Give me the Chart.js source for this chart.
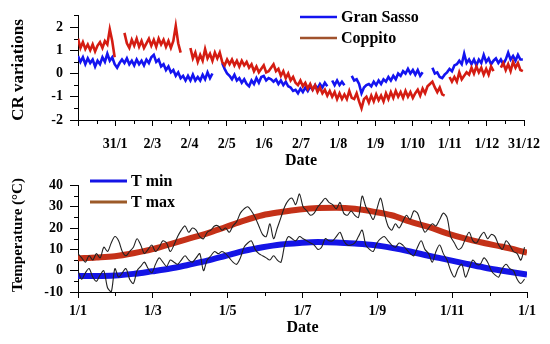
<!DOCTYPE html>
<html>
<head>
<meta charset="utf-8">
<script src="https://cdn.jsdelivr.net/npm/chart.js@4.4.1/dist/chart.umd.min.js"></script>
<style>
  body { margin: 0; background: #fff; }
  canvas { display: block; }
</style>
</head>
<body>
<canvas id="crChart" width="550" height="170"></canvas>
<canvas id="tempChart" width="550" height="174"></canvas>
<script>
// Cosmic ray variations, one sample every 2 days (day 0 = 1 Jan)
const crStep = 2;
const granSasso = [
  0.75, 0.5, 0.7, 0.4, 0.65, 0.45, 0.6, 0.3, 0.55, 0.4,
  0.7, 0.5, 0.85, 0.55, 0.7, 0.4, 0.25, 0.45, 0.6, 0.45,
  0.65, 0.4, 0.55, 0.35, 0.6, 0.4, 0.55, 0.35, 0.6, 0.45,
  0.7, 0.8, 0.5, 0.6, 0.3, 0.4, 0.15, 0.3, 0.05, 0.15,
  -0.1, 0.05, -0.2, -0.1, -0.3, -0.1, -0.3, -0.05, -0.3, -0.15,
  -0.3, -0.05, -0.25, 0.05, -0.2, 0.0, null, null, null, 0.45,
  0.2, 0.0, -0.1, -0.25, -0.05, -0.3, -0.2, -0.4, -0.25, -0.45,
  -0.55, -0.3, -0.45, -0.2, -0.4, -0.15, -0.1, -0.3, -0.2, -0.25,
  -0.35, -0.25, -0.45, -0.3, -0.5, -0.35, -0.55, -0.6, -0.75, -0.7,
  -0.85, -0.65, -0.8, -0.6, -0.75, -0.55, -0.7, -0.5, -0.65, -0.45,
  -0.6, -0.4, -0.55, null, -0.3, -0.5, -0.3, -0.5, -0.35, -0.5,
  null, null, -0.1, -0.3, -0.25, -0.45, -0.85, -0.6, -0.5, -0.45,
  -0.55, -0.35, -0.5, -0.3, -0.45, -0.25, -0.35, -0.15, -0.3, -0.1,
  -0.25, 0.0, -0.1, 0.1, 0.0, 0.2, 0.0, 0.15, -0.05, 0.15,
  -0.1, 0.05, null, null, null, 0.25, 0.0, 0.05, -0.15, -0.2,
  -0.05, 0.05, 0.2, 0.1, 0.35, 0.4, 0.55, 0.4, 0.85, 0.45,
  0.6, 0.4, 0.6, 0.35, 0.6, 0.45, 0.8, 0.5, 0.65, 0.4,
  0.55, 0.65, 0.45, 0.6, 0.4, 0.6, 0.9, 0.6, 0.75, 0.55,
  0.8, 0.6, 0.6
];
const coppito = [
  1.5, 1.1, 1.35, 1.05, 1.25, 1.0, 1.25, 0.95, 1.2, 1.35,
  1.1, 1.4, 1.25, 1.9, 1.4, 0.7, null, null, null, 1.75,
  1.3, 1.1, 1.45, 1.2, 1.5, 1.15, 1.4, 1.1, 1.3, 1.5,
  1.2, 1.45, 1.15, 1.5, 1.25, 1.45, 1.15, 1.4, 1.1, 1.4,
  2.05, 1.3, 0.9, null, null, null, 1.1, 0.65, 0.9, 0.5,
  0.8, 0.55, 1.05, 0.65, 0.85, 0.55, 0.9, 0.65, 0.9, 0.5,
  0.35, 0.6, 0.4, 0.6, 0.35, 0.55, 0.3, 0.55, 0.35, 0.5,
  0.25, 0.4, 0.1, 0.3, 0.05, 0.2, 0.35, 0.05, 0.1, 0.25,
  0.4, 0.1, 0.2, -0.1, 0.1, -0.2, 0.0, -0.3, -0.15, -0.4,
  -0.5, -0.3, -0.55, -0.4, -0.65, -0.45, -0.7, -0.5, -0.8, -0.6,
  -0.85, -0.7, -0.95, -0.75, -1.0, -0.8, -1.1, -0.85, -1.1, -0.9,
  -1.1, -0.75, -1.05, -1.1, -0.85, -1.2, -1.5, -1.1, -1.0, -1.25,
  -0.95, -1.2, -0.9, -1.15, -0.95, -1.2, -0.85, -1.1, -0.8, -1.05,
  -0.75, -1.0, -0.8, -1.05, -0.75, -1.0, -0.8, -1.05, -0.85, -0.7,
  -0.95, -0.65, -0.85, -0.55, -0.45, -0.35, -0.6, -0.8, -0.6, -0.9,
  -0.95, null, -0.15, -0.35, -0.15, -0.35, 0.05, -0.25, -0.1, 0.05,
  -0.05, 0.25, 0.0, 0.3, 0.05, 0.25, -0.05, 0.2, -0.05, 0.3,
  0.1, null, null, 0.25, 0.45, 0.15, 0.4, 0.1, 0.5, 0.25,
  0.45, 0.15, 0.1
];
const crTickLabels = ['', '31/1', '2/3', '2/4', '2/5', '1/6', '2/7', '1/8', '1/9', '1/10', '1/11', '1/12', '31/12'];

// Temperature: smooth fits and daily observations (one sample every 3 days)
const fitDays = [0, 15, 30, 45, 60, 75, 90, 105, 120, 135, 150, 165, 180, 195, 210, 225, 240, 255, 270, 285, 300, 315, 330, 345, 365];
const tMinFit = [-2.5, -2.5, -2.3, -1.5, -0.3, 1, 2.8, 4.7, 7, 9.3, 11, 12.3, 13, 13.4, 13.2, 12.7, 12, 10.7, 9, 7, 5.2, 3.3, 1.5, 0, -1.8];
const tMaxFit = [5.8, 6.2, 6.8, 8.2, 10, 12.5, 15, 17.5, 20.5, 23.5, 26, 27.5, 28.7, 29.4, 29.5, 29, 27.7, 26, 23, 20.5, 17.5, 15, 13, 11.2, 8.5];
const obsStep = 3;
const tMaxObs = [
  8, 6, 4, 7, 5, 8, 6, 11, 9, 13,
  16, 14, 9, 7, 9, 11, 15, 12, 8, 10,
  12, 9, 11, 14, 13, 9, 12, 16, 19, 21,
  18, 20, 19, 16, 15, 18, 19, 21, 21, 19,
  20, 18, 21, 23, 27, 29, 30, 28, 25, 21,
  17, 16, 22, 15, 20, 25, 30, 33, 34, 31,
  36, 30, 28, 26, 27, 30, 32, 34, 32, 31,
  29, 32, 27, 26, 28, 26, 25, 35, 30, 27,
  24, 29, 34, 27, 21, 19, 22, 20, 23, 26,
  24, 28, 27, 22, 18, 20, 22, 21, 24, 27,
  25, 16, 13, 10, 11, 15, 18, 14, 13, 16,
  18, 15, 17, 16, 12, 10, 14, 12, 9, 8,
  5, 11
];
const tMinObs = [
  0, -4, -1, 1, -3, -5, -2, 0, -8, -10,
  1, -3, -1, 1, -4, -6, 0, 2, 4, 1,
  -1, 3, 6, 4, 2, 5, 4, 3, 5, 7,
  5, 4, 6, 8, 0, 5, 7, 9, 8, 9,
  8, 6, 4, 3, 6, 11, 13, 14, 10, 8,
  7, 6, 5, 7, 5, 4, 12, 16, 15, 14,
  16, 15, 14, 13, 12, 10, 11, 15, 14, 14,
  16, 18, 14, 12, 12, 13, 16, 19, 12, 10,
  9, 13, 15, 16, 14, 12, 11, 13, 12, 10,
  8, 7, 11, 14, 10, 8, 4, 9, 12, 8,
  5, 0, -3, 1, 3, -3, 1, 5, 3, 3,
  6, 4, 0, -2, -3, 1, 3, 1, 0, -4,
  -6, -4
];
const tempTickLabels = ['1/1', '1/3', '1/5', '1/7', '1/9', '1/11', '1/1'];

const serif = '"Liberation Serif", "Times New Roman", serif';
const monthLen = 365 / 12;

function toPoints(values, step) {
  return values.map((v, i) => ({ x: i * step, y: v }));
}
function pairPoints(days, values) {
  return values.map((v, i) => ({ x: days[i], y: v }));
}

// Minor tick marks on both axes
const minorTicks = {
  id: 'minorTicks',
  afterDraw(chart, args, opts) {
    const ctx = chart.ctx;
    const xs = chart.scales.x, ys = chart.scales.y;
    ctx.save();
    ctx.strokeStyle = '#000';
    ctx.lineWidth = 1;
    ctx.beginPath();
    opts.x.forEach(v => {
      const px = Math.round(xs.getPixelForValue(v)) + 0.5;
      ctx.moveTo(px, xs.top);
      ctx.lineTo(px, xs.top + opts.len);
    });
    opts.y.forEach(v => {
      const py = Math.round(ys.getPixelForValue(v)) + 0.5;
      ctx.moveTo(ys.right, py);
      ctx.lineTo(ys.right - opts.len, py);
    });
    ctx.stroke();
    ctx.restore();
  }
};

// Legend inside the plot and rotated y title
const panelText = {
  id: 'panelText',
  afterDraw(chart, args, opts) {
    const ctx = chart.ctx;
    ctx.save();
    ctx.textBaseline = 'middle';
    ctx.font = 'bold 16px ' + serif;
    opts.items.forEach((it, i) => {
      const y = opts.y + i * opts.gap;
      ctx.strokeStyle = it.color;
      ctx.lineWidth = opts.lineWidth;
      ctx.beginPath();
      ctx.moveTo(opts.x, y);
      ctx.lineTo(opts.x + 37, y);
      ctx.stroke();
      ctx.fillStyle = '#000';
      ctx.fillText(it.text, opts.x + 41, y + 1);
    });
    ctx.translate(opts.titleX, opts.titleY);
    ctx.rotate(-Math.PI / 2);
    ctx.textAlign = 'center';
    ctx.font = 'bold ' + opts.titleSize + 'px ' + serif;
    ctx.fillText(opts.title, 0, 0);
    ctx.restore();
  }
};

function axes(cfg) {
  return {
    x: {
      type: 'linear', min: 0, max: 365,
      afterFit: s => { s.height = cfg.xHeight; },
      afterBuildTicks: s => { s.ticks = cfg.xTicks.map(v => ({ value: v })); },
      grid: { display: true, drawOnChartArea: false, tickLength: 6, color: '#000' },
      border: { display: true, color: '#000', width: 1 },
      ticks: {
        autoSkip: false, maxRotation: 0, padding: cfg.xPad, color: '#000',
        font: { family: serif, size: 14, weight: 'bold' },
        callback: (v, i) => cfg.xLabels[i]
      },
      title: {
        display: true, text: 'Date', color: '#000',
        font: { family: serif, size: 16, weight: 'bold', lineHeight: 1 },
        padding: { top: 0, bottom: cfg.datePad }
      }
    },
    y: {
      min: cfg.yMin, max: cfg.yMax,
      afterFit: s => { s.width = 78; },
      afterBuildTicks: s => { s.ticks = cfg.yTicks.map(v => ({ value: v })); },
      grid: { display: true, drawOnChartArea: false, tickLength: 8, color: '#000' },
      border: { display: true, color: '#000', width: 1 },
      ticks: {
        padding: 7, color: '#000',
        font: { family: serif, size: 14, weight: 'bold' }
      }
    }
  };
}

const crMajor = crTickLabels.map((l, i) => i * monthLen);
const crMinor = crTickLabels.slice(1).map((l, i) => (i + 0.5) * monthLen);

new Chart(document.getElementById('crChart'), {
  type: 'line',
  data: {
    datasets: [
      { label: 'Coppito', data: toPoints(coppito, crStep), borderColor: '#d41c12', borderWidth: 2.6 },
      { label: 'Gran Sasso', data: toPoints(granSasso, crStep), borderColor: '#1414f0', borderWidth: 2.6 }
    ]
  },
  options: {
    responsive: false, animation: false, devicePixelRatio: 1,
    spanGaps: false,
    elements: { point: { radius: 0 }, line: { tension: 0 } },
    layout: { padding: { top: 7, right: 23, left: 0, bottom: 0 } },
    plugins: {
      legend: { display: false }, tooltip: { enabled: false },
      minorTicks: { x: crMinor, y: [2.5, 1.5, 0.5, -0.5, -1.5], len: 4 },
      panelText: {
        x: 300, y: 17, gap: 21, lineWidth: 2.5,
        items: [{ text: 'Gran Sasso', color: '#1414f0' }, { text: 'Coppito', color: '#a0522d' }],
        title: 'CR variations', titleX: 19, titleY: 70, titleSize: 17
      }
    },
    scales: axes({
      xHeight: 50, xPad: 10, datePad: 1, xTicks: crMajor, xLabels: crTickLabels,
      yMin: -2, yMax: 2.5, yTicks: [-2, -1, 0, 1, 2]
    })
  },
  plugins: [minorTicks, panelText]
});

const tempMajor = tempTickLabels.map((l, i) => i * 2 * monthLen);
const tempMinor = tempTickLabels.slice(1).map((l, i) => (2 * i + 1) * monthLen);

new Chart(document.getElementById('tempChart'), {
  type: 'line',
  data: {
    datasets: [
      { label: 'obs max', data: toPoints(tMaxObs, obsStep), borderColor: '#222', borderWidth: 1.1, tension: 0.3 },
      { label: 'obs min', data: toPoints(tMinObs, obsStep), borderColor: '#222', borderWidth: 1.1, tension: 0.3 },
      { label: 'T max', data: pairPoints(fitDays, tMaxFit), borderColor: '#c43118', borderWidth: 6, cubicInterpolationMode: 'monotone' },
      { label: 'T min', data: pairPoints(fitDays, tMinFit), borderColor: '#1414e6', borderWidth: 6, cubicInterpolationMode: 'monotone' }
    ]
  },
  options: {
    responsive: false, animation: false, devicePixelRatio: 1,
    elements: { point: { radius: 0 } },
    layout: { padding: { top: 10, right: 23, left: 0, bottom: 0 } },
    plugins: {
      legend: { display: false }, tooltip: { enabled: false },
      minorTicks: { x: tempMinor, y: [35, 25, 15, 5, -5], len: 4 },
      panelText: {
        x: 90, y: 11, gap: 21, lineWidth: 3,
        items: [{ text: 'T min', color: '#1414e6' }, { text: 'T max', color: '#9c5a28' }],
        title: 'Temperature (°C)', titleX: 18, titleY: 65, titleSize: 15
      }
    },
    scales: axes({
      xHeight: 52, xPad: 5, datePad: 8, xTicks: tempMajor, xLabels: tempTickLabels,
      yMin: -10, yMax: 40, yTicks: [-10, 0, 10, 20, 30, 40]
    })
  },
  plugins: [minorTicks, panelText]
});
</script>
</body>
</html>
